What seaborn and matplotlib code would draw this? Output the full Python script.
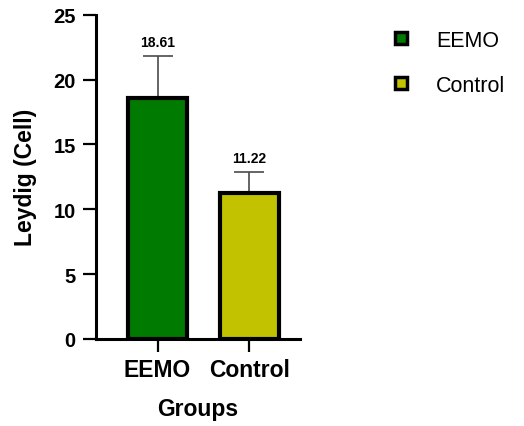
import pandas as pd
import matplotlib.pyplot as plt
import seaborn as sns
from matplotlib.lines import Line2D

groups = ['EEMO', 'Control']
means = [18.61, 11.22]
sds = [3.2, 1.65]
colors = ['#007a00', '#c2c200']

df = pd.DataFrame({'Groups': groups, 'Leydig': means})

sns.set_style("ticks")
plt.rcParams['font.family'] = ['Liberation Sans', 'DejaVu Sans']
plt.rcParams['text.color'] = 'black'
plt.rcParams['axes.labelcolor'] = 'black'
plt.rcParams['xtick.color'] = 'black'
plt.rcParams['ytick.color'] = 'black'
plt.rcParams['axes.edgecolor'] = 'black'

fig = plt.figure(figsize=(5.24, 4.27), dpi=100)
ax = fig.add_axes([0.183, 0.204, 0.39, 0.759])

sns.barplot(data=df, x='Groups', y='Leydig', hue='Groups', palette=colors,
            saturation=1, width=0.645, edgecolor='black', linewidth=3,
            legend=False, zorder=3, ax=ax)

# only the upper half of the SD whisker is visible
ax.errorbar(range(len(groups)), means, yerr=[[0] * len(sds), sds], fmt='none',
            ecolor='#4a4a4a', elinewidth=1.2, capsize=11, capthick=1.2, zorder=2)

for i, m in enumerate(means):
    ax.text(i, m + sds[i] + 0.55, f'{m:.2f}', ha='center', va='bottom',
            fontsize=10, fontweight='bold')

ax.set_ylim(0, 25)
ax.set_xlim(-0.672, 1.557)
ax.set_yticks([0, 5, 10, 15, 20, 25])
ax.set_xlabel('Groups', fontsize=16.5, fontweight='bold', labelpad=12)
ax.set_ylabel('Leydig (Cell)', fontsize=16.5, fontweight='bold', labelpad=12)
ax.tick_params(axis='both', width=1.6, length=9.5)
ax.tick_params(axis='y', labelsize=14.5, pad=5)
ax.tick_params(axis='x', labelsize=16.5, pad=4)
for lbl in ax.get_xticklabels() + ax.get_yticklabels():
    lbl.set_fontweight('bold')
for s in ['left', 'bottom']:
    ax.spines[s].set_linewidth(2.2)
sns.despine(ax=ax)

handles = [Line2D([], [], marker='s', linestyle='none', markersize=8,
                  markerfacecolor=c, markeredgecolor='black', markeredgewidth=2.5)
           for c in colors]
fig.legend(handles, groups, loc='upper left', bbox_to_anchor=(0.707, 0.973),
           frameon=False, fontsize=15.5, handlelength=1.0, handletextpad=1.16,
           labelspacing=1.1)

fig.savefig('out.png', dpi=100)
